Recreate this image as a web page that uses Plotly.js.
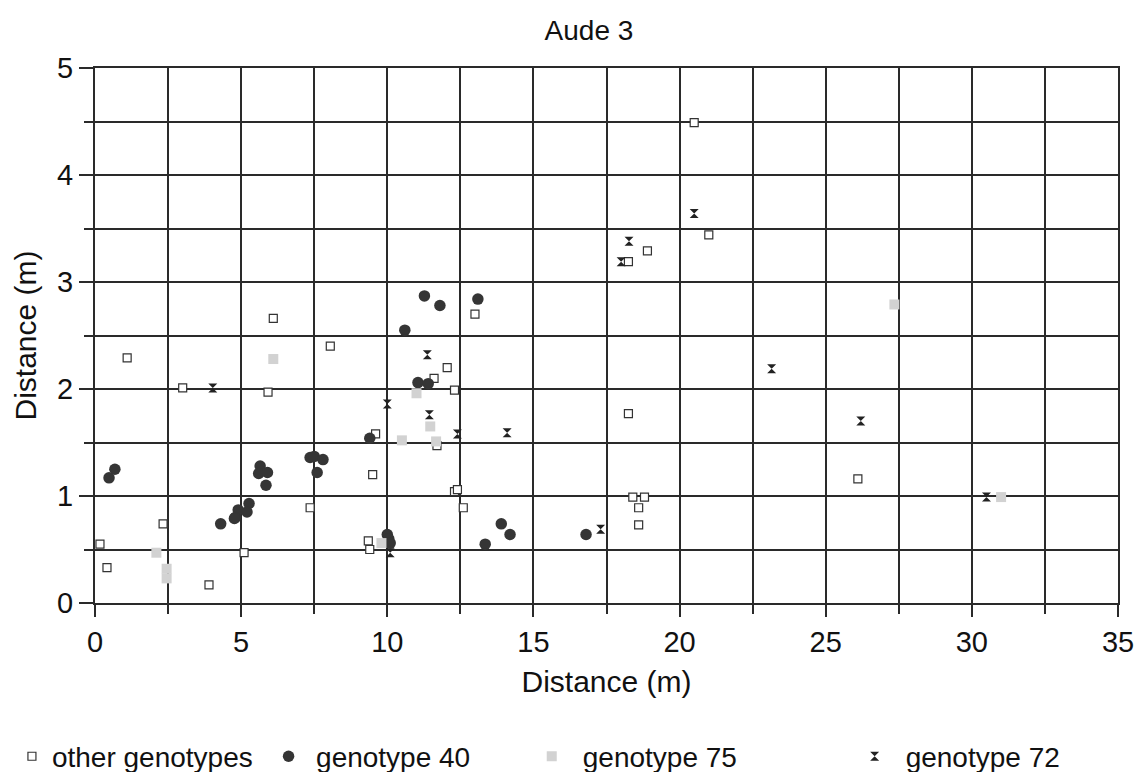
<!DOCTYPE html>
<html><head><meta charset="utf-8">
<script src="https://cdn.plot.ly/plotly-3.0.1.min.js"></script>
<style>html,body{margin:0;padding:0;background:#fff}#chart{width:1137px;height:772px}</style>
</head><body><div id="chart"></div>
<script>
const otherX = [0.17,0.41,1.1,2.33,3.0,3.9,5.1,5.92,6.1,8.05,7.36,9.5,9.6,9.35,9.4,11.6,12.05,12.3,11.7,12.3,12.4,12.6,13.0,18.25,18.9,21.0,18.25,18.4,18.8,18.6,18.6,20.5,26.1];
const otherY = [0.55,0.33,2.29,0.74,2.01,0.17,0.47,1.97,2.66,2.40,0.89,1.2,1.58,0.58,0.5,2.10,2.2,1.99,1.47,1.04,1.06,0.89,2.70,3.19,3.29,3.44,1.77,0.99,0.99,0.89,0.73,4.49,1.16];
const g40X = [0.68,0.48,5.65,5.6,5.9,5.85,5.27,4.9,4.8,5.2,4.3,4.77,7.36,7.5,7.8,7.6,9.4,11.27,11.8,13.1,10.6,11.05,11.4,10.0,10.05,10.1,13.9,14.2,13.35,16.8];
const g40Y = [1.25,1.17,1.28,1.21,1.22,1.10,0.93,0.87,0.80,0.85,0.74,0.79,1.36,1.37,1.34,1.22,1.54,2.87,2.78,2.84,2.55,2.06,2.05,0.64,0.60,0.56,0.74,0.64,0.55,0.64];
const g75X = [2.1,2.45,2.45,6.1,11.0,11.47,10.5,11.67,9.8,27.35,31.0];
const g75Y = [0.47,0.32,0.23,2.28,1.96,1.65,1.52,1.51,0.56,2.79,0.99];
const g72X = [4.03,11.37,10.0,11.44,12.4,14.1,10.1,17.3,18.27,18.0,20.5,23.15,26.2,30.5];
const g72Y = [2.01,2.32,1.86,1.76,1.58,1.59,0.47,0.69,3.38,3.19,3.64,2.19,1.70,0.99];

const FONT = "Liberation Sans, Arial, sans-serif";
const traces = [
  {x: otherX, y: otherY, name: 'other genotypes', type: 'scatter', mode: 'markers', legend: 'legend',
   marker: {symbol: 'square', size: 8, color: '#ffffff', line: {color: '#333333', width: 1.2}}},
  {x: g40X, y: g40Y, name: 'genotype 40', type: 'scatter', mode: 'markers', legend: 'legend2',
   marker: {symbol: 'circle', size: 11.5, color: '#353535', line: {width: 0}}},
  {x: g75X, y: g75Y, name: 'genotype 75', type: 'scatter', mode: 'markers', legend: 'legend3',
   marker: {symbol: 'square', size: 10, color: '#d2d2d2', line: {width: 0}}},
  {x: g72X, y: g72Y, name: 'genotype 72', type: 'scatter', mode: 'markers', legend: 'legend4',
   marker: {symbol: 'hourglass', size: 9, color: '#222222', line: {width: 0}}}
];
const gridC = '#2a2a2a';
function leg(x, iw) {
  return {orientation: 'h', x: x, xref: 'container', xanchor: 'left', y: 0.02, yref: 'container', yanchor: 'middle',
          itemwidth: iw, font: {size: 28, family: FONT, color: '#111'}, bgcolor: 'rgba(0,0,0,0)'};
}
const layout = {
  width: 1137, height: 772,
  margin: {l: 95, r: 19, t: 68, b: 169, autoexpand: false},
  paper_bgcolor: '#ffffff', plot_bgcolor: '#ffffff',
  font: {family: FONT, color: '#111', size: 26},
  title: {text: 'Aude 3', x: 0.518, xanchor: 'center', y: 0.961, yanchor: 'middle', font: {size: 28, family: FONT, color: '#111'}},
  xaxis: {range: [0, 35], dtick: 5, tick0: 0, showgrid: true, gridcolor: gridC, gridwidth: 2, automargin: false,
          zeroline: false, showline: true, mirror: true, linecolor: gridC, linewidth: 2,
          ticks: 'outside', ticklen: 12, tickcolor: gridC, tickwidth: 2,
          minor: {dtick: 2.5, showgrid: true, gridcolor: gridC, gridwidth: 2, ticks: 'outside', ticklen: 9, tickcolor: gridC, tickwidth: 2},
          tickfont: {size: 29, family: FONT, color: '#111'},
          title: {text: 'Distance (m)', font: {size: 30, family: FONT, color: '#111'}, standoff: 14}},
  yaxis: {range: [0, 5], dtick: 1, tick0: 0, showgrid: true, gridcolor: gridC, gridwidth: 2, automargin: false,
          zeroline: false, showline: true, mirror: true, linecolor: gridC, linewidth: 2,
          ticks: 'outside', ticklen: 14, tickcolor: gridC, tickwidth: 2,
          minor: {dtick: 0.5, showgrid: true, gridcolor: gridC, gridwidth: 2, ticks: 'outside', ticklen: 9, tickcolor: gridC, tickwidth: 2},
          tickfont: {size: 29, family: FONT, color: '#111'},
          title: {text: 'Distance (m)', font: {size: 30, family: FONT, color: '#111'}, standoff: 12}},
  showlegend: true,
  legend: leg(0.0105, 30),
  legend2: leg(0.2296, 45),
  legend3: leg(0.458, 52),
  legend4: leg(0.742, 52)
};
Plotly.newPlot('chart', traces, layout, {displayModeBar: false, staticPlot: true});
</script></body></html>
